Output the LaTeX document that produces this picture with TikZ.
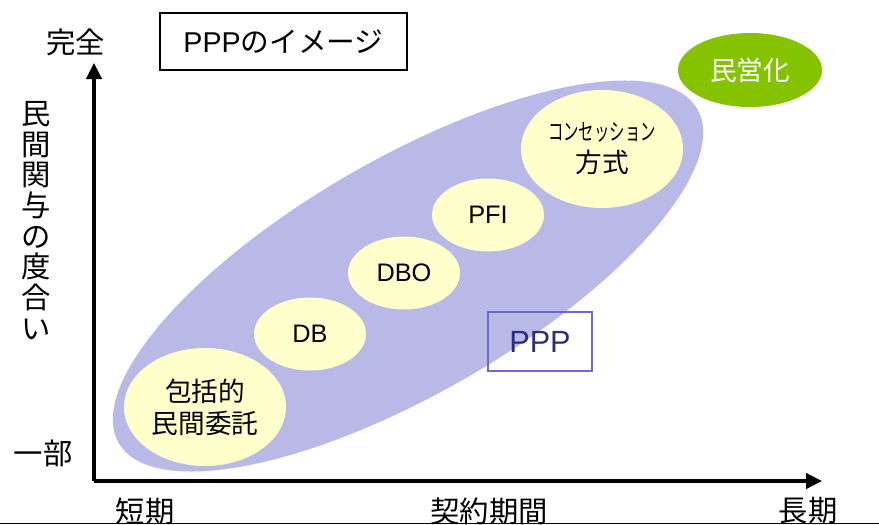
\documentclass[tikz,border=0pt]{standalone}
\usepackage{graphicx}
\usepackage{fontspec}
\setmainfont{Liberation Sans}
\newfontfamily\jp{Noto Sans CJK JP}
\usetikzlibrary{shapes.geometric,arrows.meta}
\definecolor{lav}{RGB}{184,185,230}
\definecolor{cream}{RGB}{255,255,204}
\definecolor{mgreen}{RGB}{133,194,0}
\definecolor{navy}{RGB}{45,45,128}
\definecolor{pppedge}{RGB}{106,106,207}
\tikzset{
  axisline/.style={line width=2.5pt,-{Triangle[length=12pt,width=11.5pt]}},
  bubble/.style={ellipse,fill=cream,inner sep=0pt,align=center},
  smallbubble/.style={bubble,minimum width=84pt,minimum height=54.75pt,font=\fontsize{19}{22}\selectfont},
  bigbubble/.style={bubble,minimum width=121.5pt,minimum height=88.5pt,font=\jp\fontsize{20}{24}\selectfont},
  axlabel/.style={font=\jp\fontsize{22}{23}\selectfont,inner sep=0pt,align=center}
}
\begin{document}
\begin{tikzpicture}[x=0.75pt,y=-0.75pt]
\useasboundingbox (0,0) rectangle (879,525);
% PPP area
\node[ellipse,fill=lav,minimum width=501pt,minimum height=176pt,rotate=30,inner sep=0pt] (ppparea) at (408,276) {};
% bubbles
\node[bigbubble] (hokatsu) at (205,407) {包括的\\民間委託};
\node[smallbubble] (db) at (310,334) {DB};
\node[smallbubble] (dbo) at (404,273) {DBO};
\node[smallbubble] (pfi) at (488,215) {PFI};
\node[bigbubble] (conc) at (602,149) {\scalebox{0.66}[1]{\fontsize{17.5}{17.5}\selectfont コンセッション}\\方式};
\node[ellipse,fill=mgreen,minimum width=108pt,minimum height=55.5pt,inner sep=0pt,text=white,font=\jp\fontsize{20}{24}\selectfont] (mineika) at (750,70) {民営化};
% PPP label box
\node[draw=pppedge,line width=1.1pt,minimum width=78pt,minimum height=44.25pt,text=navy,font=\fontsize{23}{26}\selectfont] (ppp) at (540,341.5) {PPP};
% title
\node[draw=black,line width=1.1pt,fill=white,minimum width=185pt,minimum height=42.75pt,inner sep=0pt] (title) at (283.5,41.5) {\fontsize{21.5}{24}\selectfont PPP{\jp のイメージ}};
% axes
\coordinate (origin) at (94,481);
\coordinate (ytip) at (94,63);
\coordinate (xtip) at (822,481);
\draw[axisline] (origin) -- (ytip);
\draw[axisline] (origin) -- (xtip);
% axis labels
\node[axlabel] (kanzen) at (75.5,42.5) {完全};
\node[axlabel] (ichibu) at (43,453.5) {一部};
\node[axlabel] (yaxis) at (36,220.5) {民\\間\\関\\与\\の\\度\\合\\い};
\node[axlabel] (tanki) at (145,511) {短期};
\node[axlabel] (keiyaku) at (489,511) {契約期間};
\node[axlabel] (choki) at (808,511) {長期};
% bottom rule
\coordinate (rl) at (0,523.8);
\coordinate (rr) at (879,523.8);
\draw[line width=1pt] (rl) -- (rr);
\end{tikzpicture}
\end{document}
